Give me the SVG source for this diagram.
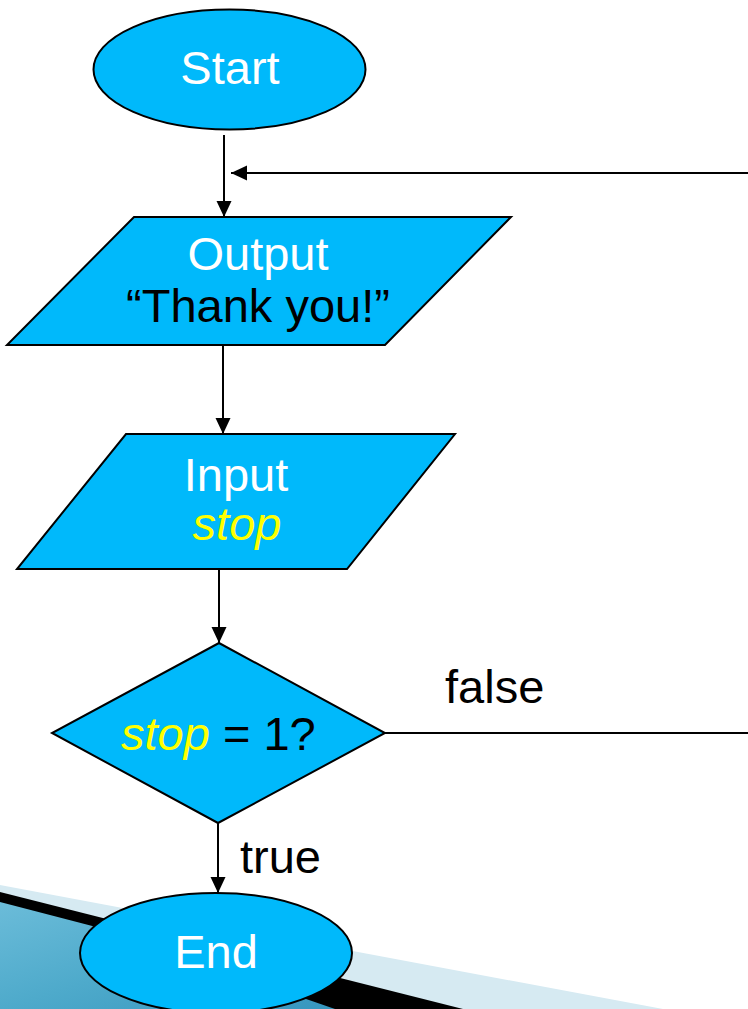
<svg xmlns="http://www.w3.org/2000/svg" width="748" height="1009" viewBox="0 0 748 1009">
  <defs>
    <style>
      .shape { fill: #00B9FB; stroke: #000; stroke-width: 2; }
      .lbl { font-family: "Liberation Sans", Arial, sans-serif; font-size: 47px; }
      .white { fill: #FFFFFF; }
      .black { fill: #000000; }
      .var { fill: #FFFF00; font-style: italic; }
      .conn { fill: none; stroke: #000; stroke-width: 2; }
    </style>
    <marker id="arrow" viewBox="0 0 16 16" refX="16" refY="8" markerWidth="16" markerHeight="16" markerUnits="userSpaceOnUse" orient="auto">
      <path d="M0,0.5 L16,8 L0,15.5 Z" fill="#000"/>
    </marker>
    <linearGradient id="teal" x1="0" y1="0" x2="1" y2="1">
      <stop offset="0" stop-color="#6BBCD9"/>
      <stop offset="0.5" stop-color="#4EAACB"/>
      <stop offset="1" stop-color="#3696BE"/>
    </linearGradient>
  </defs>

  <rect width="748" height="1009" fill="#FFFFFF"/>

  <!-- slide corner decoration -->
  <g id="corner">
    <polygon points="0,885 663,1009 0,1009" fill="#D6EAF2"/>
    <polygon points="0,892 463,1009 0,1009" fill="#000000"/>
    <polygon points="0,902 100,928 335,1009 0,1009" fill="url(#teal)"/>
  </g>

  <g id="connectors">
    <line class="conn" x1="224" y1="135" x2="224" y2="217" marker-end="url(#arrow)"/>
    <line class="conn" x1="748" y1="173" x2="231" y2="173" marker-end="url(#arrow)"/>
    <line class="conn" x1="223" y1="345" x2="223" y2="434" marker-end="url(#arrow)"/>
    <line class="conn" x1="219" y1="569" x2="219" y2="643" marker-end="url(#arrow)"/>
    <polyline class="conn" points="385,733 748,733"/>
    <line class="conn" x1="218" y1="823" x2="218" y2="893" marker-end="url(#arrow)"/>
    <text class="lbl black" x="445" y="703">false</text>
    <text class="lbl black" x="240" y="873">true</text>
  </g>

  <g id="start">
    <ellipse class="shape" cx="229.5" cy="69.5" rx="136" ry="60"/>
    <text class="lbl white" x="230" y="84" text-anchor="middle">Start</text>
  </g>

  <g id="output">
    <polygon class="shape" points="134,217 511,217 385,345 7,345"/>
    <text class="lbl white" x="258" y="270" text-anchor="middle">Output</text>
    <text class="lbl black" x="258" y="322" text-anchor="middle">“Thank you!”</text>
  </g>

  <g id="input">
    <polygon class="shape" points="126,434 455,434 347,569 17,569"/>
    <text class="lbl white" x="236" y="491" text-anchor="middle">Input</text>
    <text class="lbl var" x="237" y="540" text-anchor="middle">stop</text>
  </g>

  <g id="decision">
    <polygon class="shape" points="219,643 385,733 218,823 52,733"/>
    <text class="lbl black" x="121" y="750"><tspan class="var">stop</tspan> = 1?</text>
  </g>

  <g id="end">
    <ellipse class="shape" cx="216" cy="953" rx="136" ry="60"/>
    <text class="lbl white" x="216" y="968" text-anchor="middle">End</text>
  </g>
</svg>
